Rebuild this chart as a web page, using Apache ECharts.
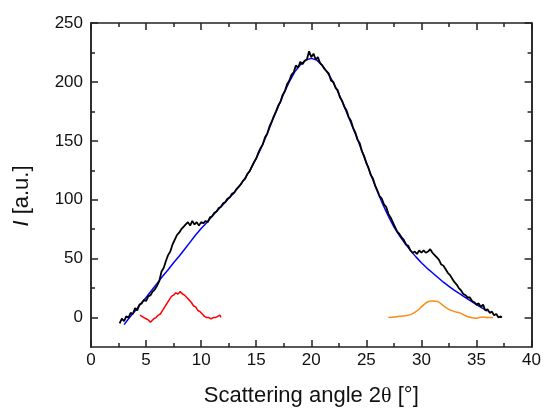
<!DOCTYPE html>
<html>
<head>
<meta charset="utf-8">
<script src="https://cdn.jsdelivr.net/npm/echarts@6/dist/echarts.min.js"></script>
<style>html,body{margin:0;padding:0;background:#fff;}#c{width:544px;height:412px;}</style>
</head>
<body>
<div id="c"></div>
<script>
// Measured pattern (black), [2θ, I]
const measured = [
[2.6,-5],[2.8,-1],[3.0,-3],[3.2,1],[3.4,0],[3.6,4],[3.8,3],[4.0,8],[4.2,6],[4.4,11],[4.6,12],[4.8,15],[5.0,14],[5.2,18],[5.4,19],[5.6,22],[5.8,24],[6.0,27],[6.2,31],[6.4,39],[6.6,42],[6.8,48],[7.0,53],[7.2,56],[7.4,62],[7.6,66],[7.8,70],[8.0,72],[8.2,75],[8.4,77],[8.6,79],[8.8,81],[9.0,78],[9.2,82],[9.4,79],[9.6,81],[9.8,78],[10.0,81],[10.2,80],[10.4,82],[10.6,81],[10.8,85],[11.0,86],[11.2,89],[11.4,90],[11.6,93],[11.8,94],[12.0,97],[12.2,98],[12.4,101],[12.6,102],[12.8,105],[13.0,106],[13.2,109],[13.4,111],[13.6,113],[13.8,116],[14.0,118],[14.2,122],[14.4,124],[14.6,128],[14.8,132],[15.0,135],[15.2,140],[15.4,144],[15.6,147],[15.8,153],[16.0,156],[16.2,162],[16.4,166],[16.6,171],[16.8,175],[17.0,180],[17.2,183],[17.4,189],[17.6,192],[17.8,198],[18.0,201],[18.2,206],[18.4,208],[18.6,214],[18.8,212],[19.0,217],[19.2,215],[19.4,218],[19.6,219],[19.8,226],[20.0,221],[20.2,224],[20.4,219],[20.6,221],[20.8,216],[21.0,214],[21.2,211],[21.4,209],[21.6,207],[21.8,201],[22.0,200],[22.2,195],[22.4,193],[22.6,187],[22.8,184],[23.0,179],[23.2,176],[23.4,170],[23.6,167],[23.8,161],[24.0,157],[24.2,151],[24.4,148],[24.6,141],[24.8,137],[25.0,131],[25.2,127],[25.4,121],[25.6,118],[25.8,112],[26.0,108],[26.2,103],[26.4,101],[26.6,96],[26.8,94],[27.0,88],[27.2,85],[27.4,81],[27.6,77],[27.8,73],[28.0,71],[28.2,68],[28.4,66],[28.6,62],[28.8,61],[29.0,57],[29.2,55],[29.4,56],[29.6,54],[29.8,57],[30.0,55],[30.2,57],[30.4,55],[30.6,56],[30.8,58],[31.0,55],[31.2,53],[31.4,51],[31.6,49],[31.8,45],[32.0,44],[32.2,41],[32.4,38],[32.6,36],[32.8,33],[33.0,30],[33.2,28],[33.4,25],[33.6,23],[33.8,20],[34.0,19],[34.2,17],[34.4,17],[34.6,14],[34.8,13],[35.0,11],[35.2,12],[35.4,9],[35.6,11],[35.8,6],[36.0,7],[36.2,4],[36.4,5],[36.6,2],[36.8,3],[37.0,0],[37.2,1],[37.3,0]
];
// Fitted amorphous halo (blue)
const fit = [
[3.0,-6],[3.5,0],[4.0,5.5],[4.5,11.5],[5.0,17],[5.5,23],[6.0,29],[6.5,35],[7.0,40.5],[7.5,46.5],[8.0,52],[8.5,58],[9.0,64],[9.5,70],[10.0,75.5],[10.5,80.5],[11.0,86],[11.5,91],[12.0,96],[12.5,101],[13.0,106],[13.5,112],[14.0,118.5],[14.5,126],[15.0,135],[15.5,145],[16.0,156],[16.5,168],[17.0,179],[17.5,190],[18.0,200],[18.5,208.5],[19.0,214.5],[19.5,218.5],[20.0,220],[20.5,218.5],[21.0,214],[21.5,207.5],[22.0,199.5],[22.5,190],[23.0,179],[23.5,167.5],[24.0,156],[24.5,144],[25.0,131.5],[25.5,119],[26.0,107],[26.5,96],[27.0,86],[27.5,77],[28.0,69.5],[28.5,63],[29.0,57],[29.5,51.5],[30.0,46.5],[30.5,42],[31.0,38],[31.5,34],[32.0,30],[32.5,26.5],[33.0,23],[33.5,20],[34.0,17],[34.5,14],[35.0,11],[35.5,8.2],[36.0,5.5]
];
// Residual peak 1 (red)
const peakLow = [
[4.45,2],[4.6,1],[4.8,0],[5.0,-1],[5.2,-2],[5.4,-4],[5.5,-3],[5.7,-1],[5.9,0],[6.1,2],[6.3,3],[6.5,6],[6.7,9],[6.9,12],[7.1,15],[7.3,18],[7.5,19],[7.7,21],[7.9,20],[8.1,22],[8.3,20],[8.5,19],[8.7,17],[8.9,15],[9.1,13],[9.3,10],[9.5,9],[9.7,6],[9.9,5],[10.1,3],[10.3,1],[10.5,0],[10.7,0],[10.9,-1],[11.1,0],[11.3,0],[11.5,1],[11.7,2],[11.8,0]
];
// Residual peak 2 (orange)
const peakHigh = [
[27.0,0],[27.5,0.5],[28.0,1],[28.5,1.5],[29.0,2.5],[29.5,5],[30.0,9],[30.5,13],[31.0,14],[31.5,13.5],[32.0,10],[32.5,7],[33.0,5],[33.5,4],[34.0,1.5],[34.5,0],[35.0,-0.5],[35.5,0.5],[36.0,0],[36.5,0]
];
const yMajor = [0, 50, 100, 150, 200, 250];
const yMinor = [25, 75, 125, 175, 225];

const FONT = 'Liberation Sans, Arial, sans-serif';
const AX = '#222';
const chart = echarts.init(document.getElementById('c'), null, {renderer: 'canvas'});

function xAx(pos, labels) {
  return {
    type: 'value', position: pos, min: 0, max: 40, interval: 5,
    axisLine: {show: true, onZero: false, lineStyle: {color: AX, width: 1.5}},
    axisTick: {show: true, inside: true, length: 7, lineStyle: {color: AX, width: 1.5}},
    minorTick: {show: true, splitNumber: 2, length: 4, lineStyle: {color: AX, width: 1.5}},
    axisLabel: {show: labels, color: '#111', fontSize: 17, fontFamily: FONT, margin: 5},
    splitLine: {show: false}, minorSplitLine: {show: false},
    name: labels ? 'Scattering angle 2{t|θ} [°]' : '',
    nameLocation: 'middle', nameGap: 38,
    nameTextStyle: {fontSize: 22, fontFamily: FONT, color: '#111',
      rich: {t: {fontSize: 22, fontFamily: 'Liberation Serif, serif', color: '#111'}}}
  };
}
function yAx(pos, major, labels) {
  const o = {
    type: 'value', position: pos, min: -25, max: 250, interval: 25,
    axisLine: {show: true, onZero: false, lineStyle: {color: AX, width: 1.5}},
    axisTick: {show: true, inside: true, length: major ? 7 : 4, customValues: major ? yMajor : yMinor, lineStyle: {color: AX, width: 1.5}},
    axisLabel: {show: labels, customValues: yMajor, color: '#111', fontSize: 17, fontFamily: FONT, margin: 8},
    splitLine: {show: false}
  };
  if (labels) {
    o.name = '{i|I} [a.u.]';
    o.nameLocation = 'middle';
    o.nameGap = 58;
    o.nameRotate = 90;
    o.nameTextStyle = {fontSize: 22, fontFamily: FONT, color: '#111', padding: [0, 22, 0, 0],
      rich: {i: {fontStyle: 'italic', fontSize: 22, fontFamily: FONT, color: '#111'}}};
  }
  return o;
}

chart.setOption({
  animation: false,
  backgroundColor: '#fff',
  grid: {left: 91, right: 11, top: 23, bottom: 62, containLabel: false},
  xAxis: [xAx('bottom', true), xAx('top', false)],
  yAxis: [yAx('left', true, true), yAx('left', false, false), yAx('right', true, false), yAx('right', false, false)],
  series: [
    {type: 'line', data: fit, xAxisIndex: 0, yAxisIndex: 0, showSymbol: false, lineStyle: {color: '#0000ff', width: 1.5}, z: 2},
    {type: 'line', data: measured, xAxisIndex: 0, yAxisIndex: 0, showSymbol: false, lineStyle: {color: '#000', width: 1.8}, z: 3},
    {type: 'line', data: peakLow, xAxisIndex: 0, yAxisIndex: 0, showSymbol: false, lineStyle: {color: '#ff0000', width: 1.5}, z: 2},
    {type: 'line', data: peakHigh, xAxisIndex: 0, yAxisIndex: 0, showSymbol: false, smooth: 0.3, lineStyle: {color: '#ff8a1a', width: 1.5}, z: 2}
  ]
});
</script>
</body>
</html>
